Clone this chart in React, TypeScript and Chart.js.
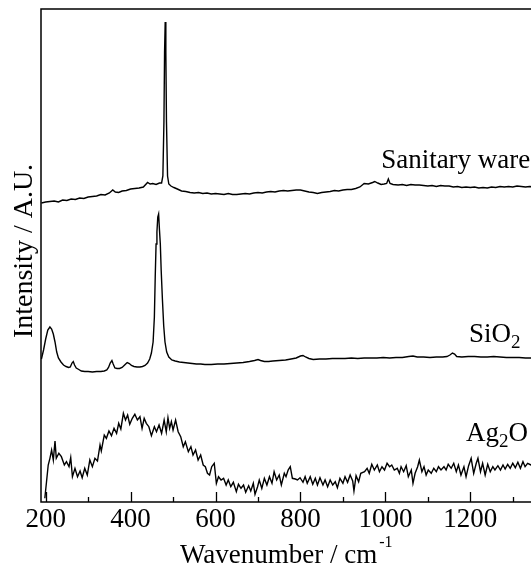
import React, { useEffect, useRef } from "react";
import { Chart, registerables } from "chart.js";
Chart.register(...registerables);

// ---- data (wavenumber in cm^-1, intensity in arbitrary offset units) ----
const sanitaryWavenumber = [190,200,210,220,230,240,250,260,270,280,290,300,310,320,330,340,350,358,364,372,380,390,400,410,420,430,440,446,452,460,468,473,476,478.5,480,481.5,483,484.5,487,490,495,502,510,520,530,540,550,560,570,580,590,600,610,620,630,640,650,660,670,680,690,700,710,720,730,740,750,760,770,780,790,800,810,820,830,840,850,860,870,880,890,900,910,920,930,940,950,960,970,975,982,990,997,1003,1007,1011,1018,1030,1040,1050,1060,1070,1080,1090,1100,1110,1120,1130,1140,1150,1160,1170,1180,1190,1200,1210,1220,1230,1240,1250,1260,1270,1280,1290,1300,1310,1320,1330,1340,1350];
const sanitaryIntensity = [299,300,300.5,301,300,302,301.5,303,302.5,304,303.5,305,305.5,306,307.5,307,309,312,310,309.5,311,311.5,313,313.5,314,315,319.5,318,318.5,317.5,319,319,326,380,450,480,450,380,326,318,316,314.5,313,311,310.5,309.5,309,309.5,308.5,309,308,308.5,308,307.5,308.5,307.5,307.5,308,308.5,308,309,309.5,309,310,310.5,310,311,311.5,311,311.5,312,312,311,310,309.5,308.5,309.5,310,310.5,311.5,311,312,312.5,312.5,313.5,315,318.5,318,319.5,320.5,319,317.5,318,318.5,323,318.5,317.5,317,317.5,316.5,317.5,317,317,316.5,316,316.5,315.5,316.5,316,316,315,315.5,314.5,315,314.5,315,314,314.5,314,315,314.5,315.5,315,315.5,315,316,315.5,315,315.5,315];

const sio2Wavenumber = [190,195,200,205,210,214,218,222,226,230,236,242,248,254,258,262,265,268,272,278,284,292,300,310,320,330,338,344,348,352,356,359,363,368,374,380,386,392,397,402,408,415,422,428,434,440,445,449,453,456,458,460,462,464,466,468,470,472,475,478,481,485,490,497,505,515,525,535,545,555,565,575,590,605,620,635,650,665,680,692,700,706,715,725,735,750,765,778,790,800,806,812,820,830,845,860,875,890,905,920,935,950,965,980,995,1010,1025,1040,1055,1065,1075,1090,1105,1120,1135,1145,1152,1158,1163,1168,1180,1195,1210,1225,1240,1255,1270,1285,1300,1315,1330,1345,1350];
const sio2Intensity = [143,152,163,172,175,173,168,160,150,144,140,137,135.5,134.5,135,139,140.5,137,134,132.5,131,130.5,130.5,130,130.5,130.5,131,132,134.5,139,141.5,138,134,133.5,133.5,134.5,137,139.5,138.5,136.5,135.5,135,135,135.5,136.5,139,143,149,160,185,225,258,270,285,288,272,258,232,202,176,160,150,145,142,141,140,139.5,139,138.5,138,138,137.5,137.5,138,138,138.5,139,139.5,140.5,141.5,142.5,141.5,140.5,140.5,141,141.5,142,143,144,146,146.5,145,143.5,142.5,143,143,143.5,143.5,143.5,144,143.5,144,144,144,144.5,144,144.5,144.5,145.5,146,145,145,144.5,145,145,145.5,147,149,148,145.5,145,145.5,145.5,145,145,145.5,145,144.5,144.5,144.5,144,144,144];

const ag2oWavenumber = [198,202,206,210,214,218,222,225,231,237,244,249,255,259,263,269,275,281,286,292,298,304,310,316,322,328,331,338,343,349,355,361,367,372,377,383,388,393,398,404,410,416,422,427,432,437,443,449,456,461,467,473,479,484,488,492,496,500,506,512,518,524,529,536,542,547,553,559,565,571,576,581,586,591,597,602,607,613,619,625,630,636,642,649,654,660,666,671,678,683,689,693,699,703,709,715,721,727,733,738,744,750,755,762,766,771,776,781,788,793,799,806,811,816,823,829,835,840,846,853,858,864,870,876,882,887,893,900,905,911,917,923,926,931,937,942,951,957,962,968,974,981,986,992,998,1004,1010,1015,1021,1028,1033,1037,1043,1049,1054,1061,1065,1070,1076,1080,1086,1091,1096,1101,1108,1114,1120,1125,1131,1138,1143,1148,1155,1161,1167,1172,1178,1185,1190,1196,1202,1208,1214,1218,1224,1229,1235,1241,1247,1253,1258,1265,1271,1277,1282,1288,1294,1300,1306,1312,1318,1324,1329,1335,1343,1350];
const ag2oIntensity = [3.7,20.3,37,43.7,52,42,61,43.7,48.7,45.3,37,40.3,35.3,44.3,25.3,33.7,25.3,31,24.3,33.7,27,42,35.3,43.7,41,57,51,67,63.7,71,66.3,73.7,68.7,78.7,73,88.7,82,87,77.7,83.7,87.7,82,85.3,73.7,83.7,78.7,75.3,66.3,75.3,70.3,77,68.7,82,70.3,84.3,73.7,80.3,72,82,70.3,65.3,55.3,60.3,50.3,55.3,47,52,42,47,37,35.3,28.7,27,35.3,38.7,18.7,25.3,22,23.7,17,22,15.3,19.7,10.3,17.7,13.7,17,9.7,16.3,11,18.7,7.7,15.3,22,13.7,23.7,17,25.3,18.7,30.3,22,27,17,28.7,25.3,32,35.3,23.7,23,22,24.3,19.7,25.3,18.7,25.3,17.7,23.7,17,24.3,17,22,15.3,22,17,20.3,14.3,23.7,18.7,25.3,19.7,27,21,11,26.3,20.3,28.7,30.3,33.7,28.7,37.7,32,37,30.3,35.3,32,38.7,35.3,37,32,33.7,28.7,35.3,30.3,36.3,25.3,32,18.7,28.7,35.3,42,30.3,35.3,27,32,28.7,33.7,30.3,35.3,32,35.3,32,37.7,33.7,38.7,30.3,37,27,35.3,25.3,36.3,43.7,28.7,38.7,43.7,30.3,38.7,27,37.7,30.3,35.3,32,36.3,32,37,33,37.7,33.7,38.7,34.3,39.7,33.7,40.3,35.3,38.7,37,36];

const xTickLabels = [200, 400, 600, 800, 1000, 1200];
const xMinorTicks = [200, 300, 400, 500, 600, 700, 800, 900, 1000, 1100, 1200, 1300];
const seriesLabels = ["Sanitary ware", "SiO", "Ag"];
// label anchor points in data units
const labelWavenumber = [990, 1197, 1190];
const labelIntensity = [334, 160, 61];

const FONT = '"Liberation Serif", "Times New Roman", serif';

function toPoints(xs: number[], ys: number[]) {
  return xs.map((x, i) => ({ x, y: ys[i] }));
}

const framePlugin = {
  id: "framePlugin",
  afterDraw(chart: any) {
    const { ctx, chartArea } = chart;
    const xs = chart.scales.x;
    const ys = chart.scales.y;
    ctx.save();
    ctx.strokeStyle = "#000";
    ctx.lineWidth = 1.5;
    ctx.strokeRect(chartArea.left, chartArea.top, chartArea.right - chartArea.left, chartArea.bottom - chartArea.top);
    // inward ticks
    ctx.lineWidth = 1.3;
    ctx.beginPath();
    xMinorTicks.forEach((v) => {
      const px = Math.round(xs.getPixelForValue(v)) + 0.5;
      const len = v % 200 === 0 ? 10 : 5;
      ctx.moveTo(px, chartArea.bottom);
      ctx.lineTo(px, chartArea.bottom - len);
    });
    ctx.stroke();

    ctx.fillStyle = "#000";
    // y title
    ctx.save();
    ctx.translate(32, 251);
    ctx.rotate(-Math.PI / 2);
    ctx.font = `28px ${FONT}`;
    ctx.textAlign = "center";
    ctx.textBaseline = "alphabetic";
    ctx.fillText("Intensity / A.U.", 0, 0);
    ctx.restore();

    // x title with superscript
    ctx.textAlign = "left";
    ctx.textBaseline = "alphabetic";
    const main = "Wavenumber / cm";
    ctx.font = `27px ${FONT}`;
    const mw = ctx.measureText(main).width;
    const startX = 180;
    ctx.fillText(main, startX, 563);
    ctx.font = `16px ${FONT}`;
    ctx.fillText("-1", startX + mw + 2, 547);

    // series labels
    const drawSub = (parts: [string, boolean][], x: number, y: number) => {
      let cx = x;
      parts.forEach(([t, sub]) => {
        ctx.font = sub ? `19px ${FONT}` : `27px ${FONT}`;
        ctx.fillText(t, cx, sub ? y + 6 : y);
        cx += ctx.measureText(t).width;
      });
    };
    const p = (i: number) => [xs.getPixelForValue(labelWavenumber[i]), ys.getPixelForValue(labelIntensity[i])];
    let [lx, ly] = p(0);
    drawSub([[seriesLabels[0], false]], lx, ly);
    [lx, ly] = p(1);
    drawSub([[seriesLabels[1], false], ["2", true]], lx, ly);
    [lx, ly] = p(2);
    drawSub([[seriesLabels[2], false], ["2", true], ["O", false]], lx, ly);
    ctx.restore();
  },
};

export default function App() {
  const ref = useRef<HTMLCanvasElement | null>(null);
  useEffect(() => {
    if (!ref.current) return;
    const ds = (data: { x: number; y: number }[]) => ({
      data,
      borderColor: "#000",
      borderWidth: 1.4,
      pointRadius: 0,
      tension: 0,
      fill: false,
    });
    const chart = new Chart(ref.current, {
      type: "line",
      data: {
        datasets: [
          ds(toPoints(sanitaryWavenumber, sanitaryIntensity)),
          ds(toPoints(sio2Wavenumber, sio2Intensity)),
          ds(toPoints(ag2oWavenumber, ag2oIntensity)),
        ],
      },
      options: {
        animation: false,
        responsive: false,
        devicePixelRatio: 1,
        layout: { padding: { left: 41, top: 9, right: 6, bottom: 0 } },
        plugins: { legend: { display: false }, tooltip: { enabled: false } },
        scales: {
          x: {
            type: "linear",
            min: 189,
            max: 1350,
            afterBuildTicks: (s: any) => {
              s.ticks = xTickLabels.map((v) => ({ value: v }));
            },
            afterFit: (s: any) => {
              s.height = 63;
            },
            grid: { display: false, drawTicks: false },
            border: { display: false },
            ticks: {
              color: "#000",
              font: { family: FONT, size: 27 },
              padding: 2,
              maxRotation: 0,
              autoSkip: false,
              callback: (v: any) => String(v),
            },
          },
          y: {
            type: "linear",
            min: 0,
            max: 493,
            display: false,
          },
        },
      },
      plugins: [framePlugin],
    } as any);
    return () => chart.destroy();
  }, []);
  return (
    <div style={{ position: "absolute", left: 0, top: 0, width: 531, height: 565, overflow: "hidden", background: "#fff" }}>
      <canvas ref={ref} width={540} height={565} style={{ display: "block" }} />
    </div>
  );
}
